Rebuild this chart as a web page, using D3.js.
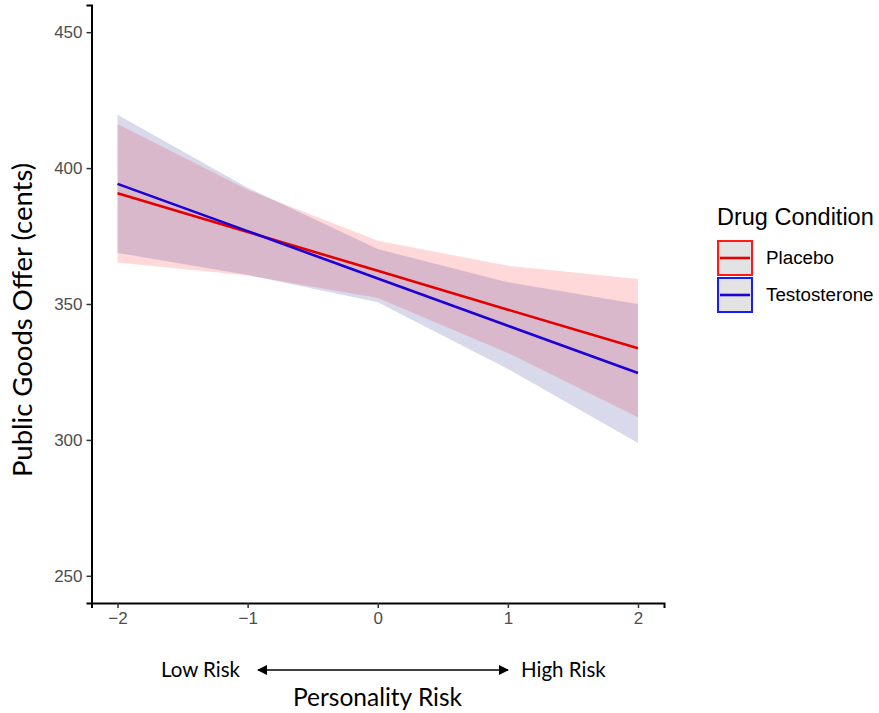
<!DOCTYPE html>
<html>
<head>
<meta charset="utf-8">
<script src="https://cdn.jsdelivr.net/npm/d3@7"></script>
<style>
  body { margin: 0; background: #fff; }
  svg { display: block; }
</style>
</head>
<body>
<div class="chart"></div>
<script>
// Data
let riskLevels = [-2, -1, 0, 1, 2];
let groups = ["Placebo", "Testosterone"];

let placeboFit = [390.7, 376.5, 362.2, 347.9, 333.7];
let placeboUpper = [416.2, 392.0, 373.3, 364.1, 359.2];
let placeboLower = [365.3, 360.5, 352.2, 332.0, 308.3];

let testoFit = [394.2, 376.8, 359.4, 342.0, 324.6];
let testoUpper = [419.6, 392.8, 370.2, 358.0, 350.0];
let testoLower = [368.8, 360.7, 350.6, 326.1, 298.9];

let yTicks = [250, 300, 350, 400, 450];

// Set the dimensions
let svgWidth = 879;
let svgHeight = 713;
let margin = {top: 5, right: 215, bottom: 110, left: 91.5};

let svg = d3.select(".chart").append("svg")
  .attr("width", svgWidth)
  .attr("height", svgHeight);

let xScale = d3.scaleLinear().domain([-2.2, 2.2]).range([margin.left, svgWidth - margin.right]);
let yScale = d3.scaleLinear().domain([240, 460]).range([svgHeight - margin.bottom, margin.top]);

let series = [
  {name: groups[0], fit: placeboFit, upper: placeboUpper, lower: placeboLower,
   line: "#e30000", box: "#ff1a1a", band: "rgba(255,0,0,0.15)"},
  {name: groups[1], fit: testoFit, upper: testoUpper, lower: testoLower,
   line: "#1c00d4", box: "#1a1aff", band: "rgba(0,0,128,0.15)"}
];

let area = d3.area()
  .x(d => xScale(d.x))
  .y0(d => yScale(d.lo))
  .y1(d => yScale(d.hi));

let line = d3.line()
  .x(d => xScale(d.x))
  .y(d => yScale(d.y));

// confidence bands
series.forEach(function(s) {
  let pts = riskLevels.map((x, i) => ({x: x, lo: s.lower[i], hi: s.upper[i]}));
  svg.append("path")
    .datum(pts)
    .attr("d", area)
    .attr("fill", s.band);
});

// fitted lines
series.forEach(function(s) {
  let pts = riskLevels.map((x, i) => ({x: x, y: s.fit[i]}));
  svg.append("path")
    .datum(pts)
    .attr("d", line)
    .attr("fill", "none")
    .attr("stroke", s.line)
    .attr("stroke-width", 2.6);
});

// axes
let bottomAxis = d3.axisBottom(xScale).tickValues(riskLevels).tickSize(5).tickPadding(4)
  .tickFormat(d => d < 0 ? "\u2212" + Math.abs(d) : d);
let leftAxis = d3.axisLeft(yScale).tickValues(yTicks).tickSize(5).tickPadding(4);

let xAxisG = svg.append("g")
  .attr("transform", `translate(0, ${svgHeight - margin.bottom})`)
  .call(bottomAxis);
let yAxisG = svg.append("g")
  .attr("transform", `translate(${margin.left}, 0)`)
  .call(leftAxis);

[xAxisG, yAxisG].forEach(function(g) {
  g.select(".domain").attr("stroke", "#000").attr("stroke-width", 2);
  g.selectAll(".tick line").attr("stroke", "#333").attr("stroke-width", 1.5);
  g.selectAll(".tick text")
    .attr("fill", "#4d4d4d")
    .style("font-family", "'Liberation Sans', Arial, sans-serif")
    .style("font-size", "17px");
});

// axis titles
svg.append("text")
  .attr("transform", "rotate(-90)")
  .attr("x", -320)
  .attr("y", 32)
  .attr("text-anchor", "middle")
  .style("font-family", "Lato, sans-serif")
  .style("font-size", "27.5px")
  .text("Public Goods Offer (cents)");

svg.append("text")
  .attr("x", 377.5)
  .attr("y", 706)
  .attr("text-anchor", "middle")
  .style("font-family", "Lato, sans-serif")
  .style("font-size", "24.5px")
  .text("Personality Risk");

svg.append("text")
  .attr("x", 240)
  .attr("y", 677)
  .attr("text-anchor", "end")
  .style("font-family", "Lato, sans-serif")
  .style("font-size", "20.5px")
  .text("Low Risk");

svg.append("text")
  .attr("x", 521)
  .attr("y", 677)
  .attr("text-anchor", "start")
  .style("font-family", "Lato, sans-serif")
  .style("font-size", "20.5px")
  .text("High Risk");

// double-headed arrow
let defs = svg.append("defs");
defs.append("marker")
  .attr("id", "head")
  .attr("viewBox", "0 0 10 10")
  .attr("refX", 9).attr("refY", 5)
  .attr("markerWidth", 10).attr("markerHeight", 10)
  .attr("markerUnits", "userSpaceOnUse")
  .attr("orient", "auto-start-reverse")
  .append("path")
  .attr("d", "M0,0 L10,5 L0,10 Z")
  .attr("fill", "#000");

svg.append("line")
  .attr("x1", 258).attr("x2", 508)
  .attr("y1", 670).attr("y2", 670)
  .attr("stroke", "#000")
  .attr("stroke-width", 1.5)
  .attr("marker-start", "url(#head)")
  .attr("marker-end", "url(#head)");

// legend
let legend = svg.append("g").attr("transform", "translate(717, 0)");
legend.append("text")
  .attr("x", 0).attr("y", 225)
  .style("font-family", "'Liberation Sans', Arial, sans-serif")
  .style("font-size", "23.5px")
  .text("Drug Condition");

series.forEach(function(s, i) {
  let top = 240 + i * 37;
  legend.append("rect")
    .attr("x", 1).attr("y", top + 1)
    .attr("width", 34).attr("height", 34)
    .attr("fill", "#e3e3e3")
    .attr("stroke", s.box)
    .attr("stroke-width", 2);
  legend.append("line")
    .attr("x1", 3).attr("x2", 33)
    .attr("y1", top + 18).attr("y2", top + 18)
    .attr("stroke", s.line)
    .attr("stroke-width", 2.6);
  legend.append("text")
    .attr("x", 49).attr("y", top + 24)
    .style("font-family", "'Liberation Sans', Arial, sans-serif")
    .style("font-size", "18.8px")
    .text(s.name);
});
</script>
</body>
</html>
